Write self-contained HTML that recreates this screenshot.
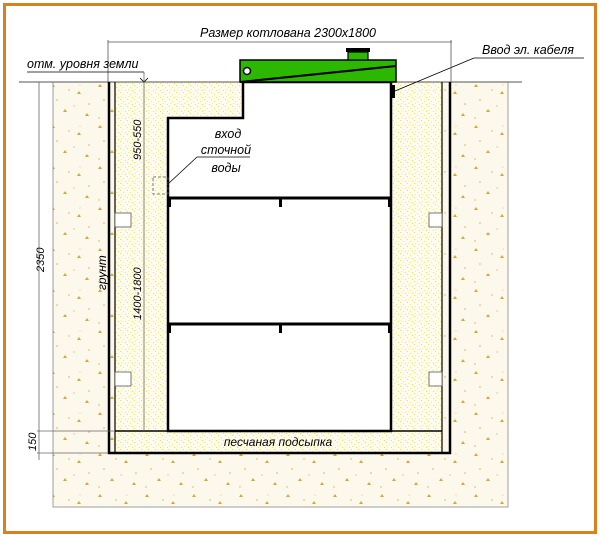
<!DOCTYPE html>
<html><head><meta charset="utf-8"><style>
body{margin:0;background:#fff}
svg{display:block}
text{font-family:"Liberation Sans","DejaVu Sans",sans-serif;font-style:italic;fill:#000}
</style></head><body>
<svg width="600" height="537" viewBox="0 0 600 537" xmlns="http://www.w3.org/2000/svg">
<defs>
<pattern id="soil" width="47" height="41" patternUnits="userSpaceOnUse">
<rect width="47" height="41" fill="#fcf8ec"/>
<path d="M4 5 l2 -3 l2 3z" fill="#d7a832"/>
<path d="M30 12 l2 -3 l2 3z" fill="#d7a832"/>
<path d="M16 30 l2 -3 l2 3z" fill="#d7a832"/>
<path d="M38 34 l2 -3 l2 3z" fill="#d7a832"/>
<circle cx="10" cy="18" r="0.8" fill="#dcb04a"/>
<circle cx="22" cy="8" r="0.7" fill="#dcb04a"/>
<circle cx="42" cy="22" r="0.8" fill="#dcb04a"/>
<circle cx="27" cy="24" r="0.6" fill="#dcb04a"/>
<circle cx="5" cy="36" r="0.7" fill="#dcb04a"/>
<circle cx="33" cy="3" r="0.5" fill="#dcb04a"/>
</pattern>
<pattern id="sand" width="7" height="7" patternUnits="userSpaceOnUse">
<rect width="7" height="7" fill="#fffced"/>
<rect x="1" y="1" width="1" height="1" fill="#eee44a"/>
<rect x="4" y="3" width="1" height="1" fill="#f2ea70"/>
<rect x="2" y="5" width="1" height="1" fill="#f4ee88"/>
<rect x="6" y="6" width="1" height="1" fill="#eee44a"/>
</pattern>
</defs>
<rect x="4.5" y="4.5" width="591" height="528" fill="#fff" stroke="#d9801f" stroke-width="3"/>
<rect x="53" y="82" width="455" height="425" fill="url(#soil)" stroke="#888" stroke-width="0.8"/>
<rect x="115" y="82" width="327" height="371" fill="url(#sand)"/>
<line x1="19" y1="82" x2="522" y2="82" stroke="#555" stroke-width="1"/>
<line x1="109" y1="82" x2="109" y2="454" stroke="#000" stroke-width="2.5"/>
<line x1="115" y1="82" x2="115" y2="453" stroke="#000" stroke-width="1.2"/>
<line x1="442" y1="82" x2="442" y2="453" stroke="#000" stroke-width="1.2"/>
<line x1="450" y1="82" x2="450" y2="454" stroke="#000" stroke-width="2.5"/>
<line x1="108" y1="453" x2="451" y2="453" stroke="#000" stroke-width="2.5"/>
<line x1="115" y1="431" x2="442" y2="431" stroke="#000" stroke-width="1.5"/>
<rect x="115" y="213" width="16" height="14" fill="#fff" stroke="#555" stroke-width="0.8"/>
<rect x="115" y="372" width="16" height="14" fill="#fff" stroke="#555" stroke-width="0.8"/>
<rect x="429" y="213" width="13" height="14" fill="#fff" stroke="#555" stroke-width="0.8"/>
<rect x="429" y="372" width="13" height="14" fill="#fff" stroke="#555" stroke-width="0.8"/>
<path d="M243 82 H391 V431 H168 V118 H243 Z" fill="#fff" stroke="#000" stroke-width="2.5"/>
<line x1="168" y1="198" x2="391" y2="198" stroke="#000" stroke-width="3"/>
<line x1="168" y1="324" x2="391" y2="324" stroke="#000" stroke-width="3"/>
<rect x="168" y="198" width="3" height="9" fill="#000"/><rect x="388" y="198" width="3" height="9" fill="#000"/>
<rect x="279" y="198" width="3" height="9" fill="#000"/>
<rect x="168" y="324" width="3" height="9" fill="#000"/><rect x="388" y="324" width="3" height="9" fill="#000"/>
<rect x="279" y="324" width="3" height="9" fill="#000"/>
<rect x="240" y="60" width="156" height="22" fill="#2db800" stroke="#000" stroke-width="1.5"/>
<line x1="240" y1="82" x2="396" y2="66" stroke="#000" stroke-width="2"/>
<rect x="348" y="52" width="20" height="8" fill="#2db800" stroke="#000" stroke-width="1.2"/>
<rect x="346" y="48" width="24" height="4" fill="#000"/>
<circle cx="247" cy="71" r="3.5" fill="#fff" stroke="#000" stroke-width="1.5"/>
<rect x="391" y="85" width="4" height="13" fill="#000"/>
<line x1="395" y1="91" x2="474" y2="58" stroke="#000" stroke-width="0.8"/>
<line x1="474" y1="58" x2="584" y2="58" stroke="#000" stroke-width="0.8"/>
<text x="482" y="54" font-size="12.5">Ввод эл. кабеля</text>
<line x1="108" y1="42" x2="452" y2="42" stroke="#555" stroke-width="0.8"/>
<line x1="108" y1="40" x2="108" y2="82" stroke="#555" stroke-width="0.8"/>
<line x1="451" y1="40" x2="451" y2="82" stroke="#555" stroke-width="0.8"/>
<text x="200" y="37" font-size="12.5">Размер котлована 2300x1800</text>
<text x="27" y="68" font-size="12.5">отм. уровня земли</text>
<line x1="27" y1="72" x2="144" y2="72" stroke="#000" stroke-width="0.8"/>
<path d="M140 78 L144 82 L148 78" fill="none" stroke="#000" stroke-width="0.8"/>
<line x1="144" y1="72" x2="144" y2="431" stroke="#666" stroke-width="0.8"/>
<text transform="translate(141,160) rotate(-90)" font-size="11">950-550</text>
<text transform="translate(141,320) rotate(-90)" font-size="11">1400-1800</text>
<text transform="translate(106,290) rotate(-90)" font-size="12">грунт</text>
<rect x="153" y="177" width="15" height="17" fill="none" stroke="#555" stroke-width="0.8" stroke-dasharray="3,2"/>
<line x1="168" y1="184" x2="197" y2="157" stroke="#000" stroke-width="0.8"/>
<line x1="197" y1="157" x2="250" y2="157" stroke="#000" stroke-width="0.8"/>
<text x="228" y="138" font-size="12.5" text-anchor="middle">вход</text>
<text x="226" y="154" font-size="12.5" text-anchor="middle">сточной</text>
<text x="226" y="172" font-size="12.5" text-anchor="middle">воды</text>
<line x1="39" y1="82" x2="39" y2="460" stroke="#666" stroke-width="0.8"/>
<line x1="37" y1="431" x2="115" y2="431" stroke="#666" stroke-width="0.8"/>
<line x1="37" y1="453" x2="108" y2="453" stroke="#666" stroke-width="0.8"/>
<text transform="translate(44,272) rotate(-90)" font-size="11">2350</text>
<text transform="translate(36,451) rotate(-90)" font-size="11">150</text>
<text x="278" y="446" font-size="12" text-anchor="middle">песчаная подсыпка</text>
</svg>
</body></html>
